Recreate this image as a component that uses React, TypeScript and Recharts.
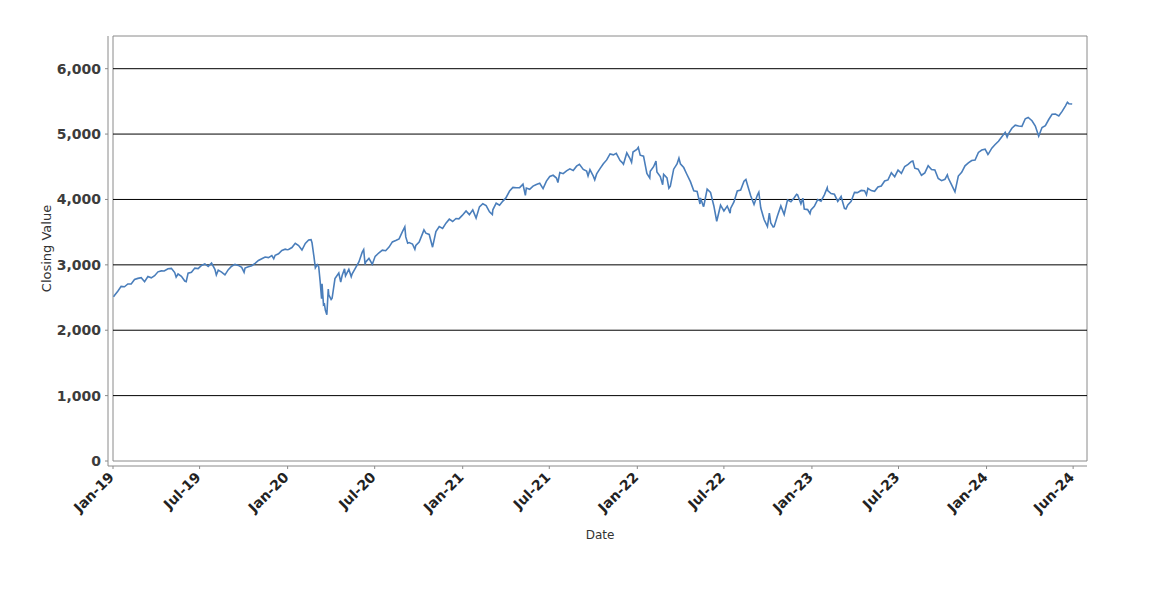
import React from 'react';
import { LineChart, Line, XAxis, YAxis, ReferenceLine, ReferenceArea } from 'recharts';

// weekly-ish closes (MM-DD per year)
const DATES_2019 = ['01-02', '01-04', '01-11', '01-18', '01-25', '02-01', '02-08', '02-15', '02-22', '03-01', '03-08', '03-15', '03-22', '03-29', '04-05', '04-12', '04-18', '04-26', '05-03', '05-10', '05-13', '05-17', '05-24', '05-31', '06-03', '06-07', '06-14', '06-21', '06-28', '07-05', '07-12', '07-19', '07-26', '08-02', '08-05', '08-09', '08-16', '08-23', '08-30', '09-06', '09-13', '09-20', '09-27', '10-02', '10-04', '10-11', '10-18', '10-25', '11-01', '11-08', '11-15', '11-22', '11-29', '12-03', '12-06', '12-13', '12-20', '12-27', '12-31'];
const CLOSE_2019 = [2510, 2532, 2596, 2671, 2665, 2707, 2708, 2776, 2793, 2804, 2743, 2822, 2801, 2834, 2893, 2907, 2905, 2940, 2946, 2881, 2812, 2860, 2826, 2752, 2744, 2873, 2887, 2950, 2942, 2990, 3014, 2977, 3026, 2932, 2845, 2919, 2889, 2847, 2926, 2979, 3007, 2992, 2962, 2887, 2952, 2970, 2986, 3023, 3067, 3093, 3120, 3110, 3141, 3093, 3146, 3169, 3221, 3240, 3231];

const DATES_2020 = ['01-03', '01-10', '01-17', '01-24', '01-31', '02-07', '02-14', '02-19', '02-21', '02-25', '02-28', '03-03', '03-06', '03-09', '03-12', '03-13', '03-16', '03-18', '03-20', '03-23', '03-26', '03-27', '04-01', '04-03', '04-09', '04-17', '04-21', '04-24', '04-29', '05-01', '05-08', '05-13', '05-15', '05-22', '05-29', '06-05', '06-08', '06-11', '06-12', '06-19', '06-26', '07-02', '07-10', '07-17', '07-24', '07-31', '08-07', '08-14', '08-21', '08-28', '09-02', '09-04', '09-08', '09-11', '09-18', '09-23', '09-25', '10-02', '10-09', '10-12', '10-16', '10-23', '10-30', '11-06', '11-13', '11-20', '11-27', '12-04', '12-11', '12-18', '12-24', '12-31'];
const CLOSE_2020 = [3235, 3265, 3330, 3295, 3226, 3328, 3380, 3386, 3338, 3128, 2954, 3003, 2972, 2747, 2481, 2711, 2386, 2398, 2305, 2237, 2630, 2541, 2471, 2489, 2790, 2875, 2737, 2837, 2939, 2831, 2930, 2820, 2864, 2955, 3044, 3194, 3232, 3002, 3041, 3098, 3009, 3130, 3185, 3225, 3216, 3271, 3351, 3373, 3397, 3508, 3580, 3427, 3332, 3341, 3319, 3237, 3298, 3348, 3477, 3535, 3484, 3465, 3270, 3510, 3585, 3558, 3638, 3699, 3663, 3709, 3703, 3756];

const DATES_2021 = ['01-08', '01-15', '01-22', '01-29', '02-05', '02-12', '02-19', '02-26', '03-04', '03-05', '03-12', '03-19', '03-26', '04-01', '04-09', '04-16', '04-23', '04-30', '05-07', '05-12', '05-14', '05-21', '05-28', '06-04', '06-11', '06-18', '06-25', '07-02', '07-09', '07-16', '07-19', '07-23', '07-30', '08-06', '08-13', '08-20', '08-27', '09-02', '09-10', '09-17', '09-20', '09-24', '10-01', '10-04', '10-08', '10-15', '10-22', '10-29', '11-05', '11-12', '11-18', '11-26', '11-30', '12-03', '12-10', '12-17', '12-20', '12-23', '12-31'];
const CLOSE_2021 = [3825, 3768, 3841, 3714, 3887, 3934, 3907, 3811, 3768, 3842, 3943, 3913, 3975, 4020, 4129, 4185, 4180, 4181, 4233, 4063, 4174, 4156, 4204, 4230, 4247, 4166, 4281, 4352, 4370, 4327, 4258, 4412, 4395, 4437, 4468, 4442, 4509, 4537, 4459, 4433, 4358, 4455, 4357, 4300, 4391, 4471, 4545, 4605, 4697, 4682, 4705, 4595, 4567, 4538, 4712, 4620, 4568, 4725, 4766];

const DATES_2022 = ['01-03', '01-07', '01-14', '01-21', '01-27', '01-28', '02-04', '02-09', '02-11', '02-18', '02-23', '02-25', '03-04', '03-08', '03-11', '03-18', '03-25', '03-29', '04-01', '04-08', '04-14', '04-22', '04-29', '05-06', '05-12', '05-13', '05-19', '05-20', '05-27', '06-03', '06-10', '06-16', '06-24', '07-01', '07-08', '07-14', '07-15', '07-22', '07-29', '08-05', '08-12', '08-16', '08-19', '08-26', '09-02', '09-09', '09-12', '09-16', '09-23', '09-30', '10-04', '10-07', '10-12', '10-14', '10-21', '10-28', '11-04', '11-11', '11-18', '11-25', '11-30', '12-02', '12-09', '12-13', '12-16', '12-23', '12-28', '12-30'];
const CLOSE_2022 = [4796, 4677, 4663, 4398, 4327, 4432, 4501, 4587, 4419, 4349, 4226, 4385, 4329, 4171, 4204, 4463, 4543, 4632, 4546, 4488, 4393, 4272, 4132, 4123, 3930, 4024, 3900, 3901, 4158, 4109, 3901, 3667, 3912, 3825, 3899, 3790, 3863, 3962, 4130, 4145, 4280, 4305, 4228, 4058, 3924, 4067, 4110, 3873, 3693, 3586, 3791, 3640, 3577, 3583, 3752, 3901, 3771, 3993, 3965, 4026, 4080, 4072, 3934, 4020, 3852, 3845, 3783, 3840];

const DATES_2023 = ['01-06', '01-13', '01-20', '01-27', '02-02', '02-03', '02-10', '02-17', '02-24', '03-03', '03-10', '03-13', '03-17', '03-24', '03-31', '04-06', '04-14', '04-21', '04-25', '04-28', '05-05', '05-12', '05-19', '05-26', '06-02', '06-09', '06-16', '06-23', '06-30', '07-07', '07-14', '07-21', '07-28', '07-31', '08-04', '08-11', '08-18', '08-25', '09-01', '09-08', '09-15', '09-22', '09-29', '10-06', '10-11', '10-13', '10-20', '10-27', '11-03', '11-10', '11-17', '11-24', '12-01', '12-08', '12-15', '12-22', '12-29'];
const CLOSE_2023 = [3895, 3999, 3973, 4071, 4180, 4136, 4090, 4079, 3970, 4046, 3862, 3855, 3917, 3971, 4109, 4105, 4138, 4133, 4071, 4169, 4136, 4124, 4192, 4205, 4282, 4299, 4410, 4348, 4450, 4399, 4505, 4536, 4582, 4589, 4478, 4464, 4370, 4406, 4516, 4457, 4450, 4320, 4288, 4308, 4377, 4327, 4224, 4117, 4358, 4415, 4514, 4559, 4595, 4604, 4719, 4755, 4770];

const DATES_2024 = ['01-04', '01-05', '01-12', '01-19', '01-26', '02-02', '02-09', '02-13', '02-16', '02-23', '03-01', '03-08', '03-15', '03-22', '03-28', '04-05', '04-12', '04-19', '04-26', '05-03', '05-10', '05-17', '05-24', '05-31', '06-07', '06-14', '06-18', '06-21', '06-28'];
const CLOSE_2024 = [4688, 4697, 4784, 4840, 4891, 4959, 5027, 4953, 5006, 5089, 5137, 5124, 5117, 5234, 5254, 5204, 5123, 4967, 5100, 5128, 5223, 5303, 5305, 5278, 5347, 5432, 5487, 5465, 5460];

const Y_TICKS = [0, 1000, 2000, 3000, 4000, 5000, 6000];
const X_TICK_DATES = ['2019-01-01', '2019-07-01', '2020-01-01', '2020-07-01', '2021-01-01', '2021-07-01', '2022-01-01', '2022-07-01', '2023-01-01', '2023-07-01', '2024-01-01', '2024-06-30'];
const X_TICK_LABELS = ['Jan-19', 'Jul-19', 'Jan-20', 'Jul-20', 'Jan-21', 'Jul-21', 'Jan-22', 'Jul-22', 'Jan-23', 'Jul-23', 'Jan-24', 'Jun-24'];

const ts = (s: string) => Date.parse(s + 'T00:00:00Z');

const YEARS: [number, string[], number[]][] = [
    [2019, DATES_2019, CLOSE_2019],
    [2020, DATES_2020, CLOSE_2020],
    [2021, DATES_2021, CLOSE_2021],
    [2022, DATES_2022, CLOSE_2022],
    [2023, DATES_2023, CLOSE_2023],
    [2024, DATES_2024, CLOSE_2024],
];

const data = YEARS.flatMap(([yr, dates, closes]) =>
    dates.map((md, i) => ({ t: ts(`${yr}-${md}`), close: closes[i] }))
);

const X_START = ts('2019-01-01');
const X_END = ts('2024-07-29');
const Y_MAX = 6500;
const xTicks = X_TICK_DATES.map(ts);

const FONT = '"DejaVu Sans", Verdana, sans-serif';
const AXIS_GRAY = '#8a8a8a';

const DateTick = (props: any) => {
    const { x, y, payload } = props;
    const label = X_TICK_LABELS[xTicks.indexOf(payload.value)] ?? '';
    return (
        <g transform={`translate(${x + 2},${y + 7}) rotate(-45)`}>
            <text textAnchor="end" fontFamily={FONT} fontSize={14} fontWeight="bold" fill="#222">
                {label}
            </text>
        </g>
    );
};

const App: React.FC = () => {
    return (
        <div style={{ position: 'absolute', left: 0, top: 0, width: 1150, height: 600, background: '#fff' }}>
            <LineChart
                width={1150}
                height={600}
                data={data}
                margin={{ top: 36, right: 63, left: 48, bottom: 74 }}
            >
                <XAxis
                    dataKey="t"
                    type="number"
                    domain={[X_START, X_END]}
                    allowDataOverflow
                    ticks={xTicks}
                    interval={0}
                    height={60}
                    padding={{ left: 5, right: 0 }}
                    stroke={AXIS_GRAY}
                    tickSize={3}
                    tickMargin={2}
                    tick={<DateTick />}
                    label={{
                        content: (p: any) => {
                            const vb = p.viewBox || { x: 108, y: 466, width: 979 };
                            return (
                                <text x={vb.x + 5 + (vb.width - 5) / 2} y={vb.y + 73} textAnchor="middle"
                                    fontFamily={FONT} fontSize={12} fill="#333">Date</text>
                            );
                        },
                    }}
                />
                <YAxis
                    type="number"
                    domain={[0, Y_MAX]}
                    ticks={Y_TICKS}
                    interval={0}
                    width={60}
                    padding={{ top: 0, bottom: 5 }}
                    stroke={AXIS_GRAY}
                    tickSize={3}
                    tickMargin={4}
                    tick={{ fill: '#3c3c3c', fontSize: 14, fontWeight: 'bold', fontFamily: FONT }}
                    tickFormatter={(v: number) => v.toLocaleString('en-US')}
                    label={{
                        content: (p: any) => {
                            const vb = p.viewBox || { x: 48, y: 36, height: 430 };
                            const cy = vb.y + (vb.height - 5) / 2;
                            const cx = 51;
                            return (
                                <text x={cx} y={cy} textAnchor="middle" transform={`rotate(-90 ${cx} ${cy})`}
                                    fontFamily={FONT} fontSize={13} fill="#333">Closing Value</text>
                            );
                        },
                    }}
                />
                <ReferenceArea x1={X_START} x2={X_END} y1={0} y2={Y_MAX}
                    fill="none" fillOpacity={0} stroke={AXIS_GRAY} strokeWidth={1} ifOverflow="visible" />
                {Y_TICKS.filter((v) => v > 0).map((v) => (
                    <ReferenceLine key={v} segment={[{ x: X_START, y: v }, { x: X_END, y: v }]}
                        stroke="#000" strokeWidth={1} ifOverflow="visible" />
                ))}
                <Line
                    type="linear"
                    dataKey="close"
                    stroke="#4a7ebb"
                    strokeWidth={1.6}
                    dot={false}
                    isAnimationActive={false}
                />
            </LineChart>
        </div>
    );
};

export default App;
